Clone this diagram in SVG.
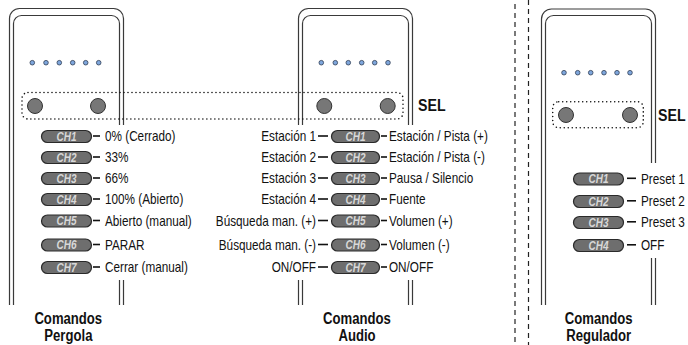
<svg xmlns="http://www.w3.org/2000/svg" width="688" height="345" viewBox="0 0 688 345">
<style>
.body{fill:none;stroke:#3a3a3a;stroke-width:1.2}
.led{fill:#7ea6dc;stroke:#2f3e55;stroke-width:0.8}
.btn{fill:#777;stroke:#333;stroke-width:1}
.sel{fill:none;stroke:#111;stroke-width:1.6;stroke-linecap:round;stroke-dasharray:0 4}
.pill{fill:#6e6e6e;stroke:#2a2a2a;stroke-width:1.2}
text{font-family:"Liberation Sans","Arial",sans-serif;transform-box:fill-box}
.pt{font-size:12.5px;font-weight:bold;font-style:italic;fill:#d8d8d8;text-anchor:middle;transform-origin:50% 50%;transform:scaleX(0.8)}
.lbl{font-size:14px;fill:#111;transform-origin:0% 50%;transform:scaleX(0.84)}
.r{text-anchor:end;transform-origin:100% 50%}
.ttl{font-size:16px;font-weight:bold;fill:#111;text-anchor:middle;transform-origin:50% 50%;transform:scaleX(0.82)}
.sl{font-size:16.5px;font-weight:bold;fill:#111;transform-origin:0% 50%;transform:scaleX(0.86)}
.dash{stroke:#111;stroke-width:1.6}
.sep{stroke:#222;stroke-width:1.2;stroke-dasharray:5 4}
</style>
<g id="separator">
<line class="sep" x1="515" y1="4" x2="515" y2="345"/>
<line class="sep" x1="528.5" y1="0" x2="528.5" y2="345"/>
</g>
<g id="remote-pergola">
<path class="body" d="M9.5,305 V18.5 A10,10 0 0 1 19.5,8.5 H113.5 A10,10 0 0 1 123.5,18.5 V125"/>
<path class="body" d="M13.5,305 V23.5 A8,8 0 0 1 21.5,15.5 H111.5 A8,8 0 0 1 119.5,23.5 V125"/>
<path class="body" d="M119.5,280 V305 M123.5,280 V305"/>
<circle class="led" cx="32.3" cy="62.7" r="2.3"/><circle class="led" cx="46" cy="62.7" r="2.3"/><circle class="led" cx="59.3" cy="62.7" r="2.3"/><circle class="led" cx="72.7" cy="62.7" r="2.3"/><circle class="led" cx="85.7" cy="62.7" r="2.3"/><circle class="led" cx="98.7" cy="62.7" r="2.3"/>
<circle class="btn" cx="35" cy="106" r="7.5"/>
<circle class="btn" cx="98" cy="106" r="7.5"/>
</g>
<g id="remote-audio">
<path class="body" d="M298.5,125 V18.5 A10,10 0 0 1 308.5,8.5 H402.5 A10,10 0 0 1 412.5,18.5 V125"/>
<path class="body" d="M302.5,125 V23.5 A8,8 0 0 1 310.5,15.5 H400.5 A8,8 0 0 1 408.5,23.5 V125"/>
<path class="body" d="M298.5,280 V305 M302.5,280 V305 M408.5,280 V305 M412.5,280 V305"/>
<circle class="led" cx="321.3" cy="62.7" r="2.3"/><circle class="led" cx="335.3" cy="62.7" r="2.3"/><circle class="led" cx="348.3" cy="62.7" r="2.3"/><circle class="led" cx="361.7" cy="62.7" r="2.3"/><circle class="led" cx="374.7" cy="62.7" r="2.3"/><circle class="led" cx="388" cy="62.7" r="2.3"/>
<circle class="btn" cx="324.3" cy="106" r="7.5"/>
<circle class="btn" cx="387.7" cy="106" r="7.5"/>
</g>
<g id="remote-regulador">
<path class="body" d="M541.5,305 V19 A10,10 0 0 1 551.5,9 H645.5 A10,10 0 0 1 655.5,19 V163"/>
<path class="body" d="M545.5,305 V23.5 A8,8 0 0 1 553.5,15.5 H643.5 A8,8 0 0 1 651.5,23.5 V163"/>
<path class="body" d="M651.5,258 V305 M655.5,258 V305"/>
<circle class="led" cx="564" cy="72.7" r="2.3"/><circle class="led" cx="577.7" cy="72.7" r="2.3"/><circle class="led" cx="590.7" cy="72.7" r="2.3"/><circle class="led" cx="604" cy="72.7" r="2.3"/><circle class="led" cx="617" cy="72.7" r="2.3"/><circle class="led" cx="630" cy="72.7" r="2.3"/>
<circle class="btn" cx="566" cy="115" r="7.5"/>
<circle class="btn" cx="630" cy="115" r="7.5"/>
</g>
<g id="sel-pergola-audio">
<rect class="sel" x="22" y="92.5" width="381" height="26.5" rx="6"/>
<text class="sl" x="418" y="111.5">SEL</text>
</g>
<g id="sel-regulador">
<rect class="sel" x="552.7" y="101.7" width="90.6" height="26" rx="6"/>
<text class="sl" x="658" y="121.5">SEL</text>
</g>
<g id="pergola-channels">
<rect class="pill" x="41.5" y="130.5" width="50" height="12" rx="6"/><text class="pt" x="66.5" y="141">CH1</text><line class="dash" x1="93" y1="136" x2="100" y2="136"/><text class="lbl" x="105" y="141.5">0% (Cerrado)</text>
<rect class="pill" x="41.5" y="151.5" width="50" height="12" rx="6"/><text class="pt" x="66.5" y="162">CH2</text><line class="dash" x1="93" y1="157" x2="100" y2="157"/><text class="lbl" x="105" y="162.5">33%</text>
<rect class="pill" x="41.5" y="172.5" width="50" height="12" rx="6"/><text class="pt" x="66.5" y="183">CH3</text><line class="dash" x1="93" y1="178" x2="100" y2="178"/><text class="lbl" x="105" y="183.5">66%</text>
<rect class="pill" x="41.5" y="193.5" width="50" height="12" rx="6"/><text class="pt" x="66.5" y="204">CH4</text><line class="dash" x1="93" y1="199" x2="100" y2="199"/><text class="lbl" x="105" y="204.5">100% (Abierto)</text>
<rect class="pill" x="41.5" y="215" width="50" height="12" rx="6"/><text class="pt" x="66.5" y="225.5">CH5</text><line class="dash" x1="93" y1="220.5" x2="100" y2="220.5"/><text class="lbl" x="105" y="226">Abierto (manual)</text>
<rect class="pill" x="41.5" y="239" width="50" height="12" rx="6"/><text class="pt" x="66.5" y="249.5">CH6</text><line class="dash" x1="93" y1="244.5" x2="100" y2="244.5"/><text class="lbl" x="105" y="250">PARAR</text>
<rect class="pill" x="41.5" y="261.5" width="50" height="12" rx="6"/><text class="pt" x="66.5" y="272">CH7</text><line class="dash" x1="93" y1="267" x2="100" y2="267"/><text class="lbl" x="105" y="272.5">Cerrar (manual)</text>
</g>
<g id="audio-channels">
<rect class="pill" x="331.5" y="130.5" width="48" height="12" rx="6"/><text class="pt" x="355.5" y="141">CH1</text><line class="dash" x1="318" y1="136" x2="328" y2="136"/><line class="dash" x1="381" y1="136" x2="387" y2="136"/><text class="lbl r" x="316" y="141.5">Estación 1</text><text class="lbl" x="389" y="141.5">Estación / Pista (+)</text>
<rect class="pill" x="331.5" y="151.5" width="48" height="12" rx="6"/><text class="pt" x="355.5" y="162">CH2</text><line class="dash" x1="318" y1="157" x2="328" y2="157"/><line class="dash" x1="381" y1="157" x2="387" y2="157"/><text class="lbl r" x="316" y="162.5">Estación 2</text><text class="lbl" x="389" y="162.5">Estación / Pista (-)</text>
<rect class="pill" x="331.5" y="172.5" width="48" height="12" rx="6"/><text class="pt" x="355.5" y="183">CH3</text><line class="dash" x1="318" y1="178" x2="328" y2="178"/><line class="dash" x1="381" y1="178" x2="387" y2="178"/><text class="lbl r" x="316" y="183.5">Estación 3</text><text class="lbl" x="389" y="183.5">Pausa / Silencio</text>
<rect class="pill" x="331.5" y="193.5" width="48" height="12" rx="6"/><text class="pt" x="355.5" y="204">CH4</text><line class="dash" x1="318" y1="199" x2="328" y2="199"/><line class="dash" x1="381" y1="199" x2="387" y2="199"/><text class="lbl r" x="316" y="204.5">Estación 4</text><text class="lbl" x="389" y="204.5">Fuente</text>
<rect class="pill" x="331.5" y="215" width="48" height="12" rx="6"/><text class="pt" x="355.5" y="225.5">CH5</text><line class="dash" x1="318" y1="220.5" x2="328" y2="220.5"/><line class="dash" x1="381" y1="220.5" x2="387" y2="220.5"/><text class="lbl r" x="316" y="226">Búsqueda man. (+)</text><text class="lbl" x="389" y="226">Volumen (+)</text>
<rect class="pill" x="331.5" y="239" width="48" height="12" rx="6"/><text class="pt" x="355.5" y="249.5">CH6</text><line class="dash" x1="318" y1="244.5" x2="328" y2="244.5"/><line class="dash" x1="381" y1="244.5" x2="387" y2="244.5"/><text class="lbl r" x="316" y="250">Búsqueda man. (-)</text><text class="lbl" x="389" y="250">Volumen (-)</text>
<rect class="pill" x="331.5" y="261.5" width="48" height="12" rx="6"/><text class="pt" x="355.5" y="272">CH7</text><line class="dash" x1="318" y1="267" x2="328" y2="267"/><line class="dash" x1="381" y1="267" x2="387" y2="267"/><text class="lbl r" x="316" y="272.5">ON/OFF</text><text class="lbl" x="389" y="272.5">ON/OFF</text>
</g>
<g id="regulador-channels">
<rect class="pill" x="573.5" y="173" width="50" height="12" rx="6"/><text class="pt" x="598.5" y="183.5">CH1</text><line class="dash" x1="627" y1="178.3" x2="636" y2="178.3"/><text class="lbl" x="641" y="184">Preset 1</text>
<rect class="pill" x="573.5" y="195.5" width="50" height="12" rx="6"/><text class="pt" x="598.5" y="206">CH2</text><line class="dash" x1="627" y1="200.8" x2="636" y2="200.8"/><text class="lbl" x="641" y="206.5">Preset 2</text>
<rect class="pill" x="573.5" y="216.5" width="50" height="12" rx="6"/><text class="pt" x="598.5" y="227">CH3</text><line class="dash" x1="627" y1="221.8" x2="636" y2="221.8"/><text class="lbl" x="641" y="227.5">Preset 3</text>
<rect class="pill" x="573.5" y="239.5" width="50" height="12" rx="6"/><text class="pt" x="598.5" y="250">CH4</text><line class="dash" x1="627" y1="244.8" x2="636" y2="244.8"/><text class="lbl" x="641" y="250.5">OFF</text>
</g>
<g id="titles">
<text class="ttl" x="68.3" y="324">Comandos</text><text class="ttl" x="68.3" y="341">Pergola</text>
<text class="ttl" x="357" y="324">Comandos</text><text class="ttl" x="357" y="341.5">Audio</text>
<text class="ttl" x="598.7" y="324">Comandos</text><text class="ttl" x="598.7" y="341">Regulador</text>
</g>
</svg>
